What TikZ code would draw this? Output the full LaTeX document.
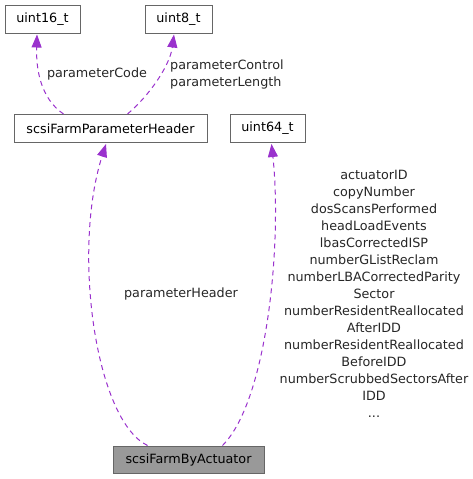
\documentclass[tikz,border=0pt]{standalone}
\usepackage{fontspec}
\setmainfont{DejaVu Sans}
\usepackage{tikz}
\usetikzlibrary{arrows.meta,positioning,calc}
\definecolor{edgepurple}{HTML}{9A32CD}
\definecolor{boxgrey}{HTML}{666666}
\definecolor{focusgrey}{HTML}{999999}

\begin{document}
\begin{tikzpicture}[x=1pt,y=-1pt,
  font=\fontsize{12.75}{17}\selectfont,
  typebox/.style={rectangle,draw=boxgrey,line width=1pt,fill=white,
    minimum height=28pt,inner sep=0pt},
  focusbox/.style={typebox,fill=focusgrey},
  usage/.style={draw=edgepurple,line width=1pt,dash pattern=on 5pt off 4pt,
    -{Triangle[length=13pt,width=10pt]}},
  lbl/.style={align=center,inner sep=0pt,text=black!85}]
\useasboundingbox (0,0) rectangle (472,479);
% types used by the structures
\node[typebox,minimum width=75pt] (u16) at (42.5,19) {uint16\_t};
\node[typebox,minimum width=67pt] (u8) at (178.5,19) {uint8\_t};
\node[typebox,minimum width=193pt] (hdr) at (110.5,128.5) {scsiFarmParameterHeader};
\node[typebox,minimum width=75pt] (u64) at (267.5,128.5) {uint64\_t};
\node[focusbox,minimum width=151pt,minimum height=27pt] (farm) at (188.5,459.5) {scsiFarmByActuator};
% member links
\draw[usage] ([xshift=-47pt]hdr.north) .. controls (40,98) and (36,68) .. ([xshift=-5.5pt,yshift=-1pt]u16.south);
\draw[usage] ([xshift=17pt]hdr.north) .. controls (150,95) and (170,65) .. ([xshift=-4.5pt,yshift=-1pt]u8.south);
\draw[usage] ([xshift=-41pt]farm.north) .. controls (95,420) and (72,250) .. ([xshift=-4.5pt,yshift=-1pt]hdr.south);
\draw[usage] ([xshift=34pt]farm.north) .. controls (268,400) and (282,240) .. ([xshift=4pt,yshift=-1pt]u64.south);
% labels
\node[lbl] (lcd) at (97,74) {parameterCode};
\node[lbl,align=left,anchor=west] (lctl) at (170,74.5) {parameterControl\\parameterLength};
\node[lbl] (lhdr) at (181,294) {parameterHeader};
\node[lbl] (lmembers) at (374,294) {actuatorID\\copyNumber\\dosScansPerformed\\headLoadEvents\\lbasCorrectedISP\\numberGListReclam\\numberLBACorrectedParity\\Sector\\numberResidentReallocated\\AfterIDD\\numberResidentReallocated\\BeforeIDD\\numberScrubbedSectorsAfter\\IDD\\...};
\end{tikzpicture}
\end{document}
